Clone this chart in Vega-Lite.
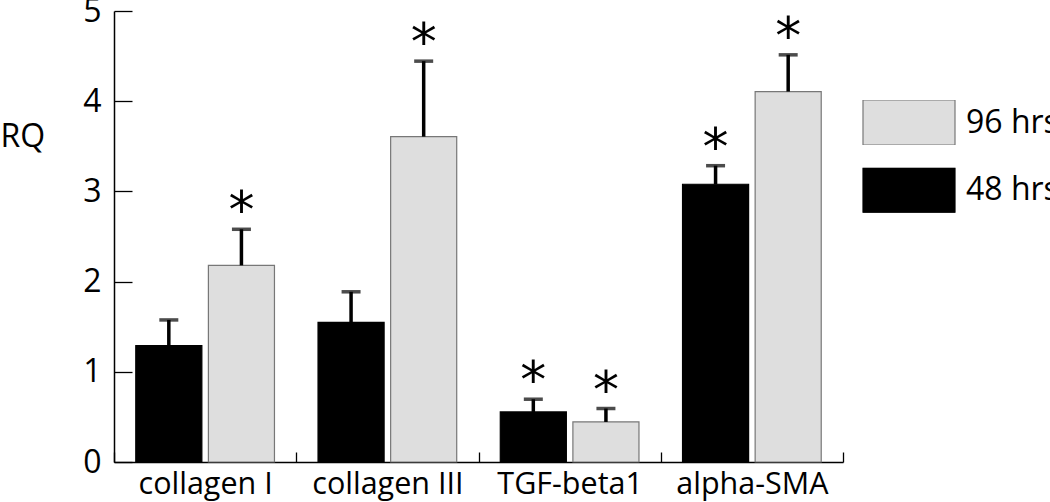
{
  "$schema": "https://vega.github.io/schema/vega-lite/v6.json",
  "autosize": {"type": "none"},
  "padding": {"left": 114, "top": 11, "right": 207, "bottom": 40},
  "width": 729,
  "height": 451,
  "background": "white",
  "config": {
    "view": {"stroke": null},
    "font": "Open Sans",
    "axis": {"labelFont": "Open Sans", "titleFont": "Open Sans", "labelColor": "black", "titleColor": "black", "domainColor": "black", "tickColor": "black", "grid": false},
    "legend": {"labelFont": "Open Sans"}
  },
  "data": {
    "values": [
      {"gene": "collagen I", "time": "48 hrs", "rq": 1.29, "err": 1.575, "sig": false},
      {"gene": "collagen I", "time": "96 hrs", "rq": 2.18, "err": 2.58, "sig": true},
      {"gene": "collagen III", "time": "48 hrs", "rq": 1.547, "err": 1.887, "sig": false},
      {"gene": "collagen III", "time": "96 hrs", "rq": 3.607, "err": 4.444, "sig": true},
      {"gene": "TGF-beta1", "time": "48 hrs", "rq": 0.555, "err": 0.696, "sig": true},
      {"gene": "TGF-beta1", "time": "96 hrs", "rq": 0.444, "err": 0.593, "sig": true},
      {"gene": "alpha-SMA", "time": "48 hrs", "rq": 3.079, "err": 3.285, "sig": true},
      {"gene": "alpha-SMA", "time": "96 hrs", "rq": 4.107, "err": 4.514, "sig": true}
    ]
  },
  "encoding": {
    "x": {
      "field": "gene", "type": "nominal",
      "sort": ["collagen I", "collagen III", "TGF-beta1", "alpha-SMA"],
      "scale": {"paddingInner": 0, "paddingOuter": 0},
      "axis": {"title": null, "labelAngle": 0, "labelFontSize": 30.5, "tickBand": "extent", "tickSize": -10, "tickWidth": 1.3, "domainWidth": 1.3, "labelPadding": 41, "labelBaseline": "alphabetic"}
    },
    "xOffset": {
      "field": "time", "type": "nominal",
      "sort": ["48 hrs", "96 hrs"],
      "scale": {"paddingInner": 0.09, "paddingOuter": 0.3}
    }
  },
  "layer": [
    {
      "mark": {"type": "bar", "strokeWidth": 1.2},
      "encoding": {
        "y": {
          "field": "rq", "type": "quantitative",
          "scale": {"domain": [0, 5], "nice": false},
          "axis": {"title": "RQ", "titleAngle": 0, "titleFontSize": 32, "titleFontWeight": "normal", "titleAlign": "left", "titleBaseline": "alphabetic", "titleX": -114, "titleY": 135, "values": [0, 1, 2, 3, 4, 5], "format": "d", "labelFontSize": 32, "tickSize": -18, "tickWidth": 1.3, "domainWidth": 1.5, "labelPadding": 31, "labelBaseline": "middle"}
        },
        "color": {
          "field": "time", "type": "nominal",
          "scale": {"domain": ["96 hrs", "48 hrs"], "range": ["#dedede", "#000000"]},
          "legend": {
            "title": null, "orient": "none", "legendX": 748, "legendY": 89,
            "symbolType": "M-1,-0.489H1V0.489H-1Z", "symbolSize": 8464,
            "symbolStrokeColor": "#555555", "symbolStrokeWidth": 1.2, "symbolOpacity": 1,
            "clipHeight": 45, "rowPadding": 22.7, "labelFontSize": 32, "labelOffset": 10, "labelColor": "black", "padding": 0
          }
        },
        "stroke": {
          "field": "time", "type": "nominal",
          "scale": {"domain": ["96 hrs", "48 hrs"], "range": ["#777777", "#000000"]},
          "legend": null
        }
      }
    },
    {
      "mark": {"type": "rule", "strokeWidth": 3.5, "color": "black"},
      "encoding": {
        "y": {"field": "rq", "type": "quantitative"},
        "y2": {"field": "err"}
      }
    },
    {
      "mark": {"type": "tick", "orient": "horizontal", "size": 19, "thickness": 3.5, "color": "black"},
      "encoding": {
        "y": {"field": "err", "type": "quantitative"}
      }
    },
    {
      "transform": [{"filter": "datum.sig"}],
      "mark": {"type": "text", "text": "*", "font": "DejaVu Sans", "fontSize": 52, "dy": -17, "baseline": "middle", "color": "black"},
      "encoding": {
        "y": {"field": "err", "type": "quantitative"}
      }
    }
  ]
}
